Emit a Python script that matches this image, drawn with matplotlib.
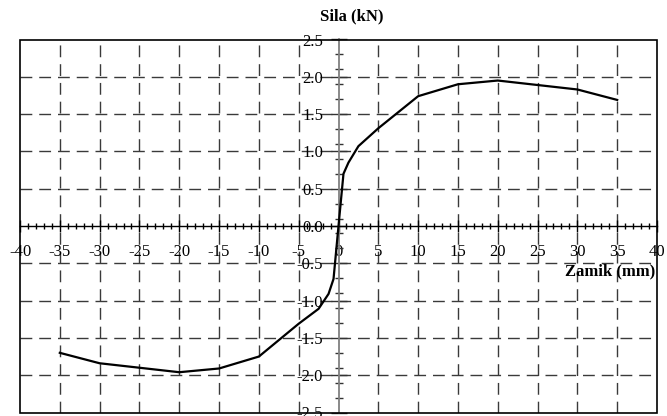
import numpy as np
import matplotlib
matplotlib.use("Agg")
import matplotlib.pyplot as plt
from matplotlib.patches import Rectangle
from matplotlib.ticker import FixedLocator, FormatStrFormatter

plt.rcParams['font.family'] = ['Liberation Serif', 'DejaVu Serif']
plt.rcParams['axes.unicode_minus'] = False
plt.rcParams['lines.scale_dashes'] = False

# Force-displacement curve
zamik = [-35, -30, -25, -20, -15, -10, -5, -2.5, -1.25, -0.625, 0,
         0.625, 1.25, 2.5, 5, 10, 15, 20, 25, 30, 35]
sila = [-1.70, -1.84, -1.90, -1.96, -1.91, -1.75, -1.31, -1.11, -0.91, -0.71, 0.0,
        0.70, 0.85, 1.07, 1.31, 1.74, 1.90, 1.95, 1.89, 1.83, 1.69]

x_ticks = list(range(-40, 41, 5))
y_ticks = [-2.5, -2.0, -1.5, -1.0, -0.5, 0.0, 0.5, 1.0, 1.5, 2.0, 2.5]

fig = plt.figure(figsize=(6.67, 4.16), dpi=100)
ax = fig.add_axes([20 / 667, 1 - 412.5 / 416, 637 / 667, 373 / 416])
ax.set_xlim(-40, 40)
ax.set_ylim(-2.5, 2.5)

# dashed grid
grid_kw = dict(color='#3a3a3a', lw=1.0, linestyle=(0, (8.5, 5.0)), zorder=1)
for gx in x_ticks[1:-1]:
    if gx != 0:
        ax.axvline(gx, **grid_kw)
for gy in y_ticks[1:-1]:
    if gy != 0:
        ax.axhline(gy, **grid_kw)

# axes through the origin
ax.spines['left'].set_position('zero')
ax.spines['bottom'].set_position('zero')
ax.spines['left'].set_color('#808080')
ax.spines['left'].set_linewidth(1.3)
ax.spines['bottom'].set_color('black')
ax.spines['bottom'].set_linewidth(1.0)
ax.spines['right'].set_visible(False)
ax.spines['top'].set_visible(False)
ax.add_patch(Rectangle((0, 0), 1, 1, transform=ax.transAxes, fill=False,
                       ec='black', lw=1.2, clip_on=False, zorder=5))

ax.xaxis.set_major_locator(FixedLocator(x_ticks))
ax.xaxis.set_minor_locator(FixedLocator(np.arange(-40, 41, 1)))
ax.yaxis.set_major_locator(FixedLocator(y_ticks))
ax.yaxis.set_minor_locator(FixedLocator(np.round(np.arange(-2.3, 2.4, 0.2), 1)))
ax.xaxis.set_major_formatter(FormatStrFormatter('%d'))
ax.yaxis.set_major_formatter(FormatStrFormatter('%.1f'))

ax.tick_params(axis='x', which='major', direction='inout', length=8, width=1.0,
               color='black', labelsize=12, pad=9)
ax.tick_params(axis='x', which='minor', direction='inout', length=4.5, width=1.0,
               color='black')
ax.tick_params(axis='y', which='major', direction='inout', length=12, width=1.0,
               color='#333333', labelsize=12, pad=5)
ax.tick_params(axis='y', which='minor', direction='inout', length=6, width=1.0,
               color='#333333')

ax.plot(zamik, sila, color='black', lw=1.6, zorder=4)

fig.text(352 / 667, 1 - 16 / 416, 'Sila (kN)', ha='center', va='center',
         fontsize=12, fontweight='bold')
fig.text(655 / 667, 1 - 271 / 416, 'Zamik (mm)', ha='right', va='center',
         fontsize=12, fontweight='bold')

fig.savefig('out.png', dpi=100)
